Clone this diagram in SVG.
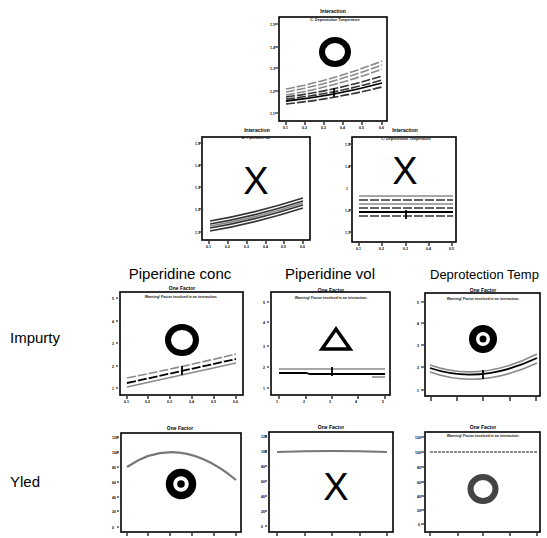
<svg xmlns="http://www.w3.org/2000/svg" width="547" height="538" viewBox="0 0 547 538">
<style>
.frame{fill:none;stroke:#000;stroke-width:1.6}
.tk{stroke:#000;stroke-width:1.2}
.tl{font-family:"Liberation Sans",Arial,sans-serif;font-size:3.5px;font-weight:bold;fill:#000}
.tt{font-family:"Liberation Sans",Arial,sans-serif;font-size:5px;font-weight:bold;fill:#000;text-anchor:middle}
.st{font-family:"Liberation Sans",Arial,sans-serif;font-size:3.6px;font-weight:bold;fill:#222;text-anchor:middle}
.hd{font-family:"Liberation Sans",Arial,sans-serif;font-size:15px;fill:#000;text-anchor:middle}
.rl{font-family:"Liberation Sans",Arial,sans-serif;font-size:15px;fill:#000}
.big{font-family:"Liberation Sans",Arial,sans-serif;font-size:38px;fill:#000;text-anchor:middle}
.g{fill:none;stroke:#8a8a8a;stroke-width:1.6}
.d{fill:none;stroke:#333;stroke-width:1.6}
.k{fill:none;stroke:#000;stroke-width:1.8}
.dash{stroke-dasharray:9 2}
</style>

<!-- Top interaction plot -->
<g id="plot-top">
  <rect class="frame" x="279" y="17" width="108" height="104"/>
  <text class="tt" x="333" y="13">Interaction</text>
  <text class="st" x="335" y="21">C: Deprotection Temperature</text>
  <g class="tk"><path d="M275 24h3M275 47h3M275 68h3M275 91h3M275 113h3M286 122v3M305 122v3M324 122v3M343 122v3M362 122v3M382 122v3"/></g>
  <g class="tl"><text x="270" y="26">1.5</text><text x="270" y="49">1.4</text><text x="270" y="70">1.3</text><text x="270" y="93">1.2</text><text x="270" y="115">1.1</text>
  <text x="283" y="129">0.1</text><text x="302" y="129">0.2</text><text x="321" y="129">0.3</text><text x="340" y="129">0.4</text><text x="359" y="129">0.5</text><text x="379" y="129">0.6</text></g>
  <ellipse cx="335" cy="52" rx="13" ry="12" fill="none" stroke="#000" stroke-width="6"/>
  <path class="g dash" d="M286 89Q334 80 382 61"/>
  <path class="g dash" d="M286 92Q334 83 382 65"/>
  <path class="g dash" d="M286 95Q334 87 382 69"/>
  <path class="d dash" d="M286 97Q334 91 382 76"/>
  <path class="d dash" d="M286 99Q334 94 382 80"/>
  <path class="k" d="M286 101Q334 96 382 83"/>
  <path class="d dash" d="M286 104Q334 99 382 87"/>
  <path class="k" d="M334 88v9"/>
</g>

<!-- Middle left interaction plot -->
<g id="plot-mid-left">
  <rect class="frame" x="202" y="137" width="108" height="103"/>
  <text class="tt" x="257" y="132">Interaction</text>
  <text class="st" x="256" y="139">B: Piperidine vol</text>
  <g class="tk"><path d="M199 143h2M199 165h2M199 187h2M199 209h2M199 232h2M209 241v3M228 241v3M247 241v3M266 241v3M284 241v3M303 241v3"/></g>
  <g class="tl"><text x="195" y="145">1.5</text><text x="195" y="167">1.4</text><text x="195" y="189">1.3</text><text x="195" y="211">1.2</text><text x="195" y="234">1.1</text>
  <text x="206" y="248">0.1</text><text x="225" y="248">0.2</text><text x="244" y="248">0.3</text><text x="263" y="248">0.4</text><text x="281" y="248">0.5</text><text x="300" y="248">0.6</text></g>
  <text class="big" x="256" y="194">X</text>
  <path class="d" d="M210 221Q256 213 303 198"/>
  <path class="d" d="M210 224Q256 216 303 201"/>
  <path class="g" d="M210 226Q256 218 303 203"/>
  <path class="d" d="M210 228Q256 220 303 205"/>
  <path class="d" d="M210 231Q256 223 303 208"/>
</g>

<!-- Middle right interaction plot -->
<g id="plot-mid-right">
  <rect class="frame" x="352" y="137" width="104" height="105"/>
  <text class="tt" x="405" y="132">Interaction</text>
  <text class="st" x="406" y="140">C: Deprotection Temperature</text>
  <g class="tk"><path d="M349 144h2M349 166h2M349 210h2M349 232h2M359 243v3M382 243v3M406 243v3M429 243v3M452 243v3"/></g>
  <g class="tl"><text x="345" y="146">1.5</text><text x="345" y="168">1.4</text><text x="346" y="190">1</text><text x="345" y="212">1.2</text><text x="345" y="234">1.1</text>
  <text x="356" y="250">0.1</text><text x="379" y="250">0.2</text><text x="403" y="250">0.3</text><text x="426" y="250">0.4</text><text x="449" y="250">0.5</text></g>
  <text class="big" x="405" y="184">X</text>
  <path class="g" d="M359 196H453"/>
  <path class="d dash" d="M359 200H453"/>
  <path class="g" d="M359 204H453"/>
  <path class="d dash" d="M359 208H453"/>
  <path class="k" d="M359 212H453"/>
  <path class="d dash" d="M359 216H453"/>
  <path class="k" d="M406 210v9"/>
</g>

<!-- Column and row headers -->
<g id="headers">
  <text class="hd" x="180" y="279">Piperidine conc</text>
  <text class="hd" x="330" y="279">Piperidine vol</text>
  <text class="rl" x="430" y="279" style="font-size:13px">Deprotection Temp</text>
  <text class="rl" x="10" y="343">Impurty</text>
  <text class="rl" x="10" y="487">Yled</text>
</g>

<!-- Impurity / Piperidine conc -->
<g id="imp-conc">
  <rect class="frame" x="120" y="292" width="123" height="103"/>
  <text class="tt" x="182" y="290">One Factor</text>
  <text class="st" x="181" y="298">Warning! Factor involved in an interaction.</text>
  <g class="tk"><path d="M116 298h2M116 321h2M116 343h2M116 366h2M116 388h2M127 396v3M148 396v3M170 396v3M192 396v3M214 396v3M236 396v3"/></g>
  <g class="tl"><text x="112" y="300">5</text><text x="112" y="323">4</text><text x="112" y="345">3</text><text x="112" y="368">2</text><text x="112" y="390">1</text>
  <text x="124" y="403">0.1</text><text x="145" y="403">0.2</text><text x="167" y="403">0.3</text><text x="189" y="403">0.4</text><text x="211" y="403">0.5</text><text x="233" y="403">0.6</text></g>
  <ellipse cx="182" cy="340" rx="14" ry="13" fill="none" stroke="#000" stroke-width="6"/>
  <path class="g dash" d="M127 378Q182 367 236 354"/>
  <path class="k dash" d="M127 383Q182 371 236 359"/>
  <path class="g" d="M127 387Q182 375 236 363"/>
  <path class="k" d="M182 366v9"/>
</g>

<!-- Impurity / Piperidine vol -->
<g id="imp-vol">
  <rect class="frame" x="271" y="292" width="119" height="103"/>
  <text class="tt" x="331" y="292">One Factor</text>
  <text class="st" x="331" y="299">Warning! Factor involved in an interaction.</text>
  <g class="tk"><path d="M267 302h2M267 322h2M267 346h2M267 367h2M267 388h2M279 396v3M306 396v3M332 396v3M358 396v3M385 396v3"/></g>
  <g class="tl"><text x="263" y="304">5</text><text x="263" y="324">4</text><text x="263" y="348">3</text><text x="263" y="369">2</text><text x="263" y="390">1</text>
  <text x="276" y="403">1</text><text x="303" y="403">2</text><text x="329" y="403">3</text><text x="355" y="403">4</text><text x="382" y="403">5</text></g>
  <path d="M336 329L350 349H322Z" fill="none" stroke="#000" stroke-width="3.5" stroke-linejoin="miter"/>
  <path class="g" d="M279 369H385"/>
  <path class="k" d="M279 373L306 373L310 374H385"/>
  <path class="g" d="M372 377H385"/>
  <path class="k" d="M332 367v9"/>
</g>

<!-- Impurity / Deprotection Temp -->
<g id="imp-temp">
  <rect class="frame" x="425" y="293" width="115" height="103"/>
  <text class="tt" x="483" y="292">One Factor</text>
  <text class="st" x="483" y="300">Warning! Factor involved in an interaction.</text>
  <g class="tk"><path d="M421 302h3M421 323h3M421 345h3M421 367h3M421 390h3M431 397v4M457 397v4M483 397v4M510 397v4M536 397v4"/></g>
  <g class="tl"><text x="417" y="304">5</text><text x="417" y="325">4</text><text x="417" y="347">3</text><text x="417" y="369">2</text><text x="417" y="392">1</text></g>
  <circle cx="483" cy="339" r="10.5" fill="none" stroke="#000" stroke-width="7"/>
  <circle cx="483" cy="339" r="3.5" fill="#000"/>
  <path class="g" d="M430 365Q480 383 537 354"/>
  <path class="k" d="M430 368Q480 385 537 358"/>
  <path class="g" d="M430 372Q480 390 537 363"/>
  <path class="k" d="M483 370v9"/>
</g>

<!-- Yield / Piperidine conc -->
<g id="yld-conc">
  <rect class="frame" x="121" y="433" width="120" height="99"/>
  <text class="tt" x="180" y="430">One Factor</text>
  <g class="tk"><path d="M117 437h2M117 452h2M117 467h2M117 482h2M117 497h2M117 511h2M117 527h2M127 533v3M148 533v3M170 533v3M192 533v3M214 533v3M236 533v3"/></g>
  <g class="tl"><text x="112" y="439">120</text><text x="112" y="454">100</text><text x="112" y="469">80</text><text x="112" y="484">60</text><text x="112" y="499">40</text><text x="112" y="513">20</text><text x="112" y="529">0</text></g>
  <path d="M127 467Q178 432 236 480" fill="none" stroke="#777" stroke-width="2.2"/>
  <circle cx="181" cy="484" r="11.5" fill="none" stroke="#000" stroke-width="7.5"/>
  <circle cx="181" cy="484" r="3.8" fill="#000"/>
</g>

<!-- Yield / Piperidine vol -->
<g id="yld-vol">
  <rect class="frame" x="269" y="432" width="124" height="100"/>
  <text class="tt" x="331" y="429">One Factor</text>
  <g class="tk"><path d="M265 436h2M265 451h2M265 466h2M265 481h2M265 496h2M265 511h2M265 526h2M277 533v3M305 533v3M332 533v3M360 533v3M387 533v3"/></g>
  <g class="tl"><text x="261" y="438">120</text><text x="261" y="453">100</text><text x="261" y="468">80</text><text x="261" y="483">60</text><text x="261" y="498">40</text><text x="261" y="513">20</text><text x="261" y="528">0</text></g>
  <path d="M277 452Q332 450 387 452" fill="none" stroke="#777" stroke-width="2"/>
  <text class="big" x="336" y="500">X</text>
</g>

<!-- Yield / Deprotection Temp -->
<g id="yld-temp">
  <rect class="frame" x="425" y="432" width="115" height="100"/>
  <text class="tt" x="483" y="429">One Factor</text>
  <text class="st" x="483" y="437">Warning! Factor involved in an interaction.</text>
  <g class="tk"><path d="M421 437h3M421 452h3M421 467h3M421 482h3M421 496h3M421 510h3M421 524h3M430 533v3M458 533v3M483 533v3M510 533v3M537 533v3"/></g>
  <g class="tl"><text x="415" y="439">120</text><text x="415" y="454">100</text><text x="417" y="469">80</text><text x="417" y="484">60</text><text x="417" y="498">40</text><text x="417" y="512">20</text><text x="418" y="526">0</text></g>
  <path d="M430 452H537" fill="none" stroke="#666" stroke-width="1.6" stroke-dasharray="3 1"/>
  <ellipse cx="483" cy="489" rx="12.5" ry="12" fill="none" stroke="#444" stroke-width="6"/>
</g>
</svg>
